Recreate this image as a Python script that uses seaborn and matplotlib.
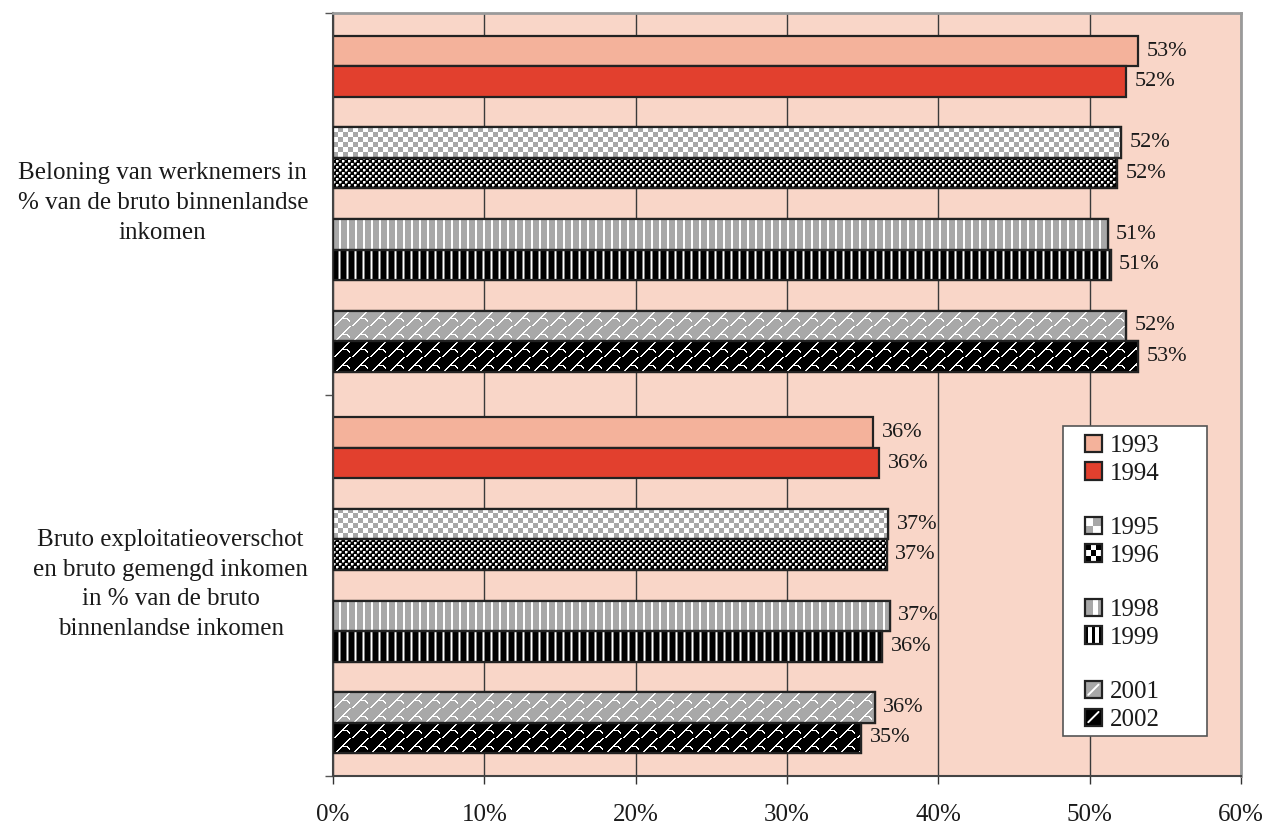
import numpy as np
import pandas as pd
import matplotlib
matplotlib.use("Agg")
import matplotlib.pyplot as plt
import matplotlib.colors as mcolors
import matplotlib.transforms as mtransforms
import seaborn as sns
from matplotlib.patches import Patch, Rectangle
from matplotlib.lines import Line2D
from matplotlib.legend_handler import HandlerBase

# ---- data -------------------------------------------------------------
categories = [
    "Beloning van werknemers in\n% van de bruto binnenlandse\ninkomen",
    "Bruto exploitatieoverschot\nen bruto gemengd inkomen\nin % van de bruto\nbinnenlandse inkomen",
]
years = ["1993", "1994", "1995", "1996", "1998", "1999", "2001", "2002"]
beloning = [53.2, 52.4, 52.1, 51.8, 51.2, 51.4, 52.4, 53.2]
exploitatie = [35.7, 36.1, 36.7, 36.6, 36.8, 36.3, 35.8, 34.9]
x_ticks = [0, 10, 20, 30, 40, 50, 60]

# years are grouped in pairs, separated by an empty slot
hue_order = ["1993", "1994", "_g1", "1995", "1996", "_g2",
             "1998", "1999", "_g3", "2001", "2002"]

rows = []
for cat, vals in zip(categories, [beloning, exploitatie]):
    for yr, v in zip(years, vals):
        rows.append({"category": cat, "year": yr, "value": v})
df = pd.DataFrame(rows)
lookup = {(r.category, r.year): r.value for r in df.itertuples()}

# ---- styling ----------------------------------------------------------
sns.set_theme(style="white")
plt.rcParams["font.family"] = ["Liberation Serif", "DejaVu Serif"]

BG = "#F9D6C8"
G, W, K, M = "#A8A8A8", "#FFFFFF", "#000000", "#7F7F7F"
EDGE = "#222222"

palette = {"1993": "#F4B29B", "1994": "#E2402E", "1995": W, "1996": K,
           "1998": G, "1999": K, "2001": G, "2002": K,
           "_g1": W, "_g2": W, "_g3": W}

# pixel tiles for the patterned fills
t95 = np.kron(np.array([[1, 0], [0, 1]]), np.ones((5, 5), int))
t96 = np.zeros((6, 6), int)
t96[0:2, 0:2] = 1; t96[2, 0:2] = 2; t96[0:2, 2] = 2
t96[3:5, 3:5] = 1; t96[5, 3:5] = 2; t96[3:5, 5] = 2
t98 = np.array([[0, 0, 0, 0, 0, 0, 1, 1]])
t99 = np.array([[0, 0, 0, 0, 0, 2, 1, 2]])
# rising diagonal strokes with a short hook
t_sh = np.zeros((16, 18), int)
for r in range(16):
    c = (15 - r) + 1
    t_sh[r, c % 18] = 1
    t_sh[r, (c + 1) % 18] = 1
for c in range(9, 15):
    t_sh[8, c] = 1
t_sh[9, 14] = 1; t_sh[9, 15] = 1
t_sh[10, 15] = 1; t_sh[10, 16] = 1
t_sh[11, 16] = 1

textures = {
    "1995": (t95, [G, W]),
    "1996": (t96, [K, W, M]),
    "1998": (t98, [G, W]),
    "1999": (t99, [K, W, M]),
    "2001": (t_sh, [G, W]),
    "2002": (t_sh, [K, W]),
}

fig = plt.figure(figsize=(12.67, 8.25), dpi=100)
fig.patch.set_facecolor("white")
ax = fig.add_axes([333 / 1267, 1 - 776 / 825, 908 / 1267, 763 / 825])
ax.set_facecolor(BG)

group_width = 0.88
sns.barplot(data=df, y="category", x="value", hue="year", hue_order=hue_order,
            order=categories, palette=palette, orient="h", width=group_width,
            dodge=True, legend=False, saturation=1, errorbar=None,
            edgecolor=EDGE, linewidth=1.6, ax=ax)

ax.set_xlim(0, 60)
ax.set_ylim(1.5, -0.5)

slot = group_width / len(hue_order)
for p in list(ax.patches):
    x0, y0, w, h = p.get_x(), p.get_y(), p.get_width(), p.get_height()
    cy = y0 + h / 2
    ci = int(round(cy))
    level = hue_order[int(round((cy - ci + group_width / 2) / slot - 0.5))]
    if level in textures:
        tile, cols = textures[level]
        (px0, py0), (px1, py1) = ax.transData.transform([(x0, y0), (x0 + w, y0 + h)])
        npx, npy = int(round(abs(px1 - px0))), int(round(abs(py1 - py0)))
        th, tw = tile.shape
        idx = np.tile(tile, (npy // th + 2, npx // tw + 2))[:npy, :npx]
        cmap = np.array([mcolors.to_rgb(c) for c in cols])
        ax.imshow(cmap[idx], extent=(x0, x0 + w, y0 + h, y0), origin="upper",
                  aspect="auto", interpolation="nearest", zorder=2.5)
        ax.add_patch(Rectangle((x0, y0), w, h, fill=False, edgecolor=EDGE,
                               linewidth=1.6, zorder=2.6))
    val = lookup[(categories[ci], level)]
    ax.annotate(f"{val:.0f}%", xy=(val, cy), xytext=(6, 0),
                textcoords="offset points", ha="left", va="center",
                fontsize=16, color="#1a1a1a", zorder=3)

ax.set_xlim(0, 60)
ax.set_ylim(1.5, -0.5)

# ---- axes -------------------------------------------------------------
ax.set_xlabel("")
ax.set_ylabel("")
ax.set_xticks(x_ticks)
ax.set_xticklabels([f"{t}%" for t in x_ticks])
ax.tick_params(axis="x", which="major", direction="out", length=6,
               width=1.0, color="#333333", pad=14, labelsize=18,
               labelcolor="#1a1a1a", bottom=True)
ax.set_yticks([-0.5, 0.5, 1.5])
ax.set_yticklabels(["", "", ""])
ax.set_yticks([0, 1], minor=True)
ax.set_yticklabels(categories, minor=True)
ax.tick_params(axis="y", which="major", direction="out", length=6,
               width=1.0, color="#555555", left=True)
ax.tick_params(axis="y", which="minor", length=0, pad=18, labelsize=18,
               labelcolor="#1a1a1a", left=True)
lift = mtransforms.ScaledTranslation(0, 5 / 72, fig.dpi_scale_trans)
for t in ax.get_yticklabels(minor=True):
    t.set_multialignment("center")
    t.set_linespacing(1.45)
    t.set_transform(t.get_transform() + lift)

ax.set_axisbelow(True)
ax.xaxis.grid(True, color="#3a3a3a", linewidth=1.0)
ax.yaxis.grid(False)
for side in ["top", "right"]:
    ax.spines[side].set_color("#9a9a9a")
    ax.spines[side].set_linewidth(2.0)
for side in ["left", "bottom"]:
    ax.spines[side].set_color("#444444")
    ax.spines[side].set_linewidth(1.5)

# ---- legend -----------------------------------------------------------
class SwatchHandler(HandlerBase):
    def __init__(self, cells=None, colors=None, diag=None):
        super().__init__()
        self.cells = None if cells is None else np.asarray(cells)
        self.colors = colors
        self.diag = diag

    def create_artists(self, legend, orig_handle, xdescent, ydescent,
                       width, height, fontsize, trans):
        if self.cells is None:
            return [Rectangle((0, 0), 0, 0, visible=False, transform=trans)]
        side = height
        x0 = -xdescent + width - side
        y0 = -ydescent
        arts = []
        nr, nc = self.cells.shape
        for r in range(nr):
            for c in range(nc):
                arts.append(Rectangle((x0 + c * side / nc, y0 + side - (r + 1) * side / nr),
                                      side / nc, side / nr,
                                      facecolor=self.colors[self.cells[r, c]],
                                      edgecolor="none", transform=trans))
        if self.diag:
            arts.append(Line2D([x0 + side * 0.2, x0 + side * 0.8],
                               [y0 + side * 0.2, y0 + side * 0.8],
                               color=self.diag, lw=1.4, transform=trans))
        arts.append(Rectangle((x0, y0), side, side, fill=False, edgecolor=EDGE,
                              linewidth=1.6, transform=trans))
        return arts

swatches = {
    "1993": SwatchHandler([[0]], [palette["1993"]]),
    "1994": SwatchHandler([[0]], [palette["1994"]]),
    "1995": SwatchHandler([[1, 0], [0, 1]], [G, W]),
    "1996": SwatchHandler([[0, 1, 0], [1, 0, 1], [0, 1, 0]], [K, W]),
    "1998": SwatchHandler([[0, 0, 1, 0]], [G, W]),
    "1999": SwatchHandler([[0, 1, 0, 1, 0]], [K, W]),
    "2001": SwatchHandler([[0]], [G], diag=W),
    "2002": SwatchHandler([[0]], [K], diag=W),
}

handles, labels, hmap = [], [], {}
for lvl in hue_order:
    hd = Patch()
    handles.append(hd)
    if lvl in swatches:
        labels.append(lvl)
        hmap[hd] = swatches[lvl]
    else:
        labels.append("")
        hmap[hd] = SwatchHandler()

box_x0, box_x1 = (1063 - 333) / 908, (1207 - 333) / 908
box_y0, box_y1 = (776 - 736) / 763, (776 - 426) / 763
ax.add_patch(Rectangle((box_x0, box_y0), box_x1 - box_x0, box_y1 - box_y0,
                       transform=ax.transAxes, facecolor="white",
                       edgecolor="#555555", linewidth=1.2, zorder=4))
leg = ax.legend(handles, labels, handler_map=hmap, loc="upper left",
                bbox_to_anchor=(box_x0, box_y1), borderaxespad=0,
                frameon=False, fontsize=18, handlelength=1.2,
                handleheight=0.68, handletextpad=0.32, borderpad=0.36,
                labelspacing=0.2)
leg.set_zorder(5)
for txt in leg.get_texts():
    txt.set_color("#1a1a1a")

fig.savefig("out.png", dpi=100)
